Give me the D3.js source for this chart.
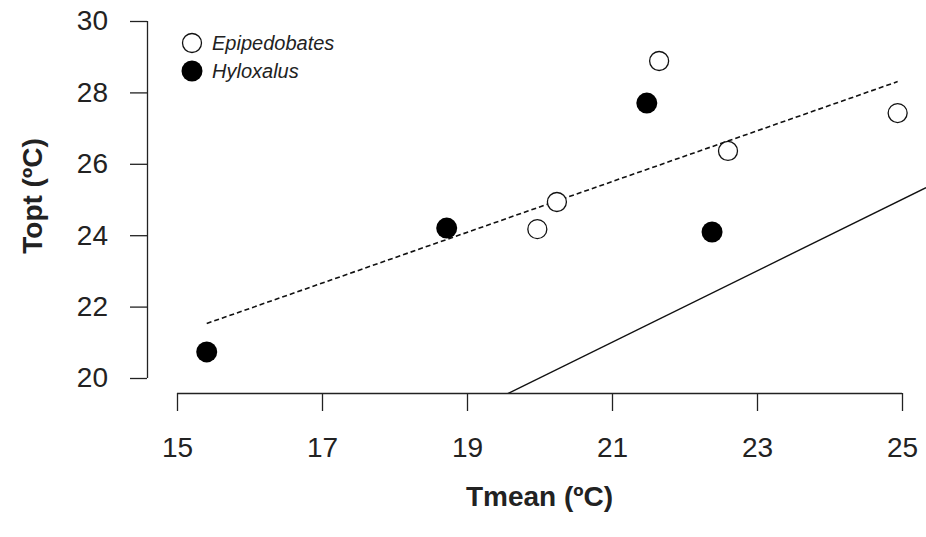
<!DOCTYPE html>
<html>
<head>
<meta charset="utf-8">
<script src="https://cdn.jsdelivr.net/npm/d3@7"></script>
<style>
  html, body { margin: 0; padding: 0; background: #fff; }
  svg { display: block; font-family: "Liberation Sans", Arial, sans-serif; }
</style>
</head>
<body>
<svg id="chart" width="926" height="537"></svg>
<script>
// ---- data ----
const epiTmean = [19.97, 20.24, 21.65, 22.60, 24.94];
const epiTopt  = [24.17, 24.93, 28.88, 26.36, 27.42];
const hyloTmean = [15.41, 18.72, 21.48, 22.38];
const hyloTopt  = [20.73, 24.20, 27.70, 24.09];
const xTicks = [15, 17, 19, 21, 23, 25];
const yTicks = [20, 22, 24, 26, 28, 30];
const fitIntercept = 10.57;   // dashed regression line
const fitSlope = 0.711;
const identityIntercept = 0;  // solid 1:1 line
const identitySlope = 1;
const legendLabels = ["Epipedobates", "Hyloxalus"];
const xTitle = "Tmean (ºC)";
const yTitle = "Topt (ºC)";

// ---- layout ----
const svg = d3.select("#chart");
const W = 926, H = 537;
const x = d3.scaleLinear().domain([15, 25]).range([177, 902]);
const y = d3.scaleLinear().domain([20, 30]).range([378, 21]);
const plotLeft = 147, plotBottom = 393;

// clip region for lines
svg.append("defs").append("clipPath").attr("id", "plotclip")
  .append("rect").attr("x", plotLeft).attr("y", 0)
  .attr("width", W - plotLeft).attr("height", plotBottom);

// axes
const xAxis = d3.axisBottom(x).tickValues(xTicks).tickSize(18).tickPadding(19).tickSizeOuter(0);
const gx = svg.append("g").attr("transform", `translate(0,${plotBottom})`).call(xAxis);
gx.select(".domain").attr("d", `M${x(15)},0.5H${x(25)}`);
const yAxis = d3.axisLeft(y).tickValues(yTicks).tickSize(17).tickPadding(22).tickSizeOuter(0);
const gy = svg.append("g").attr("transform", `translate(${plotLeft},0)`).call(yAxis);
gy.select(".domain").attr("d", `M0.5,${y(20)}V${y(30)}`);
[gx, gy].forEach(g => {
  g.selectAll(".domain").attr("stroke", "#222").attr("stroke-width", 1.3);
  g.selectAll(".tick line").attr("stroke", "#222").attr("stroke-width", 1.3);
  g.selectAll(".tick text").attr("font-size", 28).attr("fill", "#222")
    .attr("font-family", "Liberation Sans, Arial, sans-serif");
});
gx.selectAll(".tick text").attr("dy", "0.98em");

// axis titles
svg.append("text").attr("x", (x(15) + x(25)) / 2).attr("y", 506)
  .attr("text-anchor", "middle").attr("font-size", 28).attr("font-weight", "bold")
  .attr("fill", "#222").text(xTitle);
svg.append("text").attr("transform", `translate(42,196) rotate(-90)`)
  .attr("text-anchor", "middle").attr("font-size", 28).attr("font-weight", "bold")
  .attr("fill", "#222").text(yTitle);

// lines
const lines = svg.append("g").attr("clip-path", "url(#plotclip)");
const allX = epiTmean.concat(hyloTmean);
const fitX = d3.extent(allX);
const line = d3.line().x(d => x(d[0])).y(d => y(d[1]));
lines.append("path")
  .datum(fitX.map(v => [v, fitIntercept + fitSlope * v]))
  .attr("d", line).attr("fill", "none").attr("stroke", "#111")
  .attr("stroke-width", 1.6).attr("stroke-dasharray", "5,3");
const idX = [x.invert(plotLeft), x.invert(W)];
lines.append("path")
  .datum(idX.map(v => [v, identityIntercept + identitySlope * v]))
  .attr("d", line).attr("fill", "none").attr("stroke", "#111")
  .attr("stroke-width", 1.4);

// points
const R = 10;
svg.append("g").selectAll("circle").data(d3.zip(epiTmean, epiTopt)).join("circle")
  .attr("cx", d => x(d[0])).attr("cy", d => y(d[1])).attr("r", R - 0.5)
  .attr("fill", "#fff").attr("stroke", "#111").attr("stroke-width", 1.3);
svg.append("g").selectAll("circle").data(d3.zip(hyloTmean, hyloTopt)).join("circle")
  .attr("cx", d => x(d[0])).attr("cy", d => y(d[1])).attr("r", R + 0.5)
  .attr("fill", "#000");

// legend
const lg = svg.append("g");
const legendRows = [
  { label: legendLabels[0], filled: false },
  { label: legendLabels[1], filled: true }
];
legendRows.forEach((row, i) => {
  const cy = 43 + i * 28;
  lg.append("circle").attr("cx", 192).attr("cy", cy)
    .attr("r", row.filled ? R + 0.5 : R - 0.5)
    .attr("fill", row.filled ? "#000" : "#fff")
    .attr("stroke", row.filled ? "none" : "#111").attr("stroke-width", 1.3);
  lg.append("text").attr("x", 212).attr("y", cy).attr("dy", "0.35em")
    .attr("font-size", 20).attr("font-style", "italic").attr("fill", "#222")
    .text(row.label);
});
</script>
</body>
</html>
